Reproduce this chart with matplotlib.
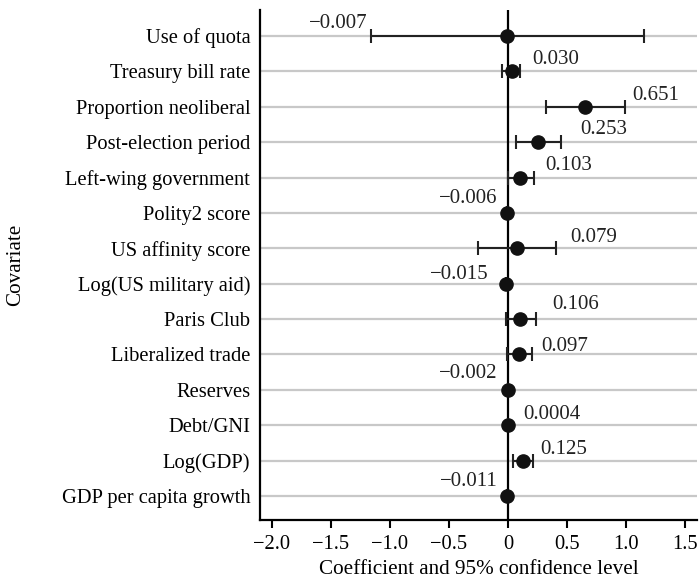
"""Coefficient plot: covariates with 95% confidence intervals."""
import matplotlib
matplotlib.use("Agg")
import matplotlib.pyplot as plt
import numpy as np

plt.rcParams["font.family"] = ["Liberation Serif", "DejaVu Serif"]

covariates = ["Use of quota", "Treasury bill rate", "Proportion neoliberal",
              "Post-election period", "Left-wing government", "Polity2 score",
              "US affinity score", "Log(US military aid)", "Paris Club",
              "Liberalized trade", "Reserves", "Debt/GNI", "Log(GDP)",
              "GDP per capita growth"]
coef = [-0.007, 0.030, 0.651, 0.253, 0.103, -0.006, 0.079, -0.015,
        0.106, 0.097, -0.002, 0.0004, 0.125, -0.011]
ci_low = [-1.16, -0.05, 0.32, 0.065, 0.0, -0.006, -0.25, -0.015,
          -0.02, -0.01, -0.002, 0.0004, 0.045, -0.011]
ci_high = [1.15, 0.10, 0.99, 0.45, 0.22, -0.006, 0.41, -0.015,
           0.235, 0.205, -0.002, 0.0004, 0.21, -0.011]
coef_labels = ["\u22120.007", "0.030", "0.651", "0.253", "0.103", "\u22120.006",
               "0.079", "\u22120.015", "0.106", "0.097", "\u22120.002", "0.0004",
               "0.125", "\u22120.011"]

# label placement (x centre in data units, rise above the row in row units)
label_x = [-1.44, 0.40, 1.25, 0.81, 0.51, -0.34, 0.73, -0.41,
           0.57, 0.48, -0.34, 0.37, 0.47, -0.33]
label_rise = [0.34, 0.34, 0.31, 0.37, 0.34, 0.42, 0.30, 0.25,
              0.42, 0.23, 0.45, 0.31, 0.31, 0.40]

xticks = [-2.0, -1.5, -1.0, -0.5, 0, 0.5, 1.0, 1.5]


def fmt(v):
    if v == 0:
        return "0"
    return f"{v:.1f}".replace("-", "\u2212")


def main():
    fig = plt.figure(figsize=(6.99, 5.86), dpi=100)
    ax = fig.add_axes([0.372, 0.1126, 0.625, 0.870])

    y = np.arange(len(covariates))
    for yi in y:
        ax.axhline(yi, color="#c8c8c8", linewidth=1.6, zorder=0)
    ax.axvline(0, color="black", linewidth=1.6, zorder=1)

    coef_a = np.array(coef)
    err = np.vstack([coef_a - np.array(ci_low), np.array(ci_high) - coef_a])
    ax.errorbar(coef_a, y, xerr=err, fmt="o", color="#111111", ecolor="#222222",
                elinewidth=1.5, capsize=5, capthick=1.5, markersize=9.5, zorder=3)

    for lx, yi, rise, txt in zip(label_x, y, label_rise, coef_labels):
        ax.text(lx, yi - rise, txt, ha="center", va="center", fontsize=15,
                color="#222222")

    ax.set_yticks(y)
    ax.set_yticklabels(covariates, fontsize=14.8)
    ax.tick_params(axis="y", length=0, pad=7)
    ax.set_xticks(xticks)
    ax.set_xticklabels([fmt(v) for v in xticks], fontsize=14.8)
    ax.tick_params(axis="x", length=6, width=1.5, direction="out", pad=5)
    ax.set_xlim(-2.10, 1.60)
    ax.set_ylim(13.68, -0.73)

    for side in ["top", "right"]:
        ax.spines[side].set_visible(False)
    for side in ["left", "bottom"]:
        ax.spines[side].set_linewidth(1.6)

    ax.set_xlabel("Coefficient and 95% confidence level", fontsize=15.2)
    ax.xaxis.set_label_coords(0.5, -0.079)
    ax.set_ylabel("Covariate", fontsize=15.2)
    ax.yaxis.set_label_coords(-0.537, 0.5)

    fig.savefig("out.png", dpi=100)


if __name__ == "__main__":
    main()
